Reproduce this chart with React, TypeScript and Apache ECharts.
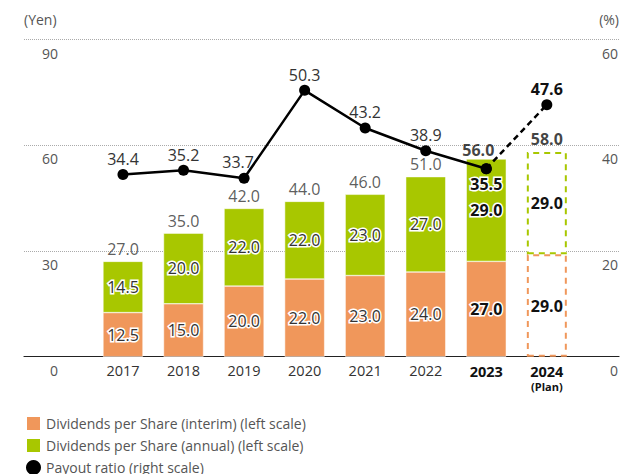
import { useEffect, useRef } from 'react';
import * as echarts from 'echarts';

const years = ['2017', '2018', '2019', '2020', '2021', '2022', '2023', '2024'];
const interim = [12.5, 15.0, 20.0, 22.0, 23.0, 24.0, 27.0, 29.0];
const annual = [14.5, 20.0, 22.0, 22.0, 23.0, 27.0, 29.0, 29.0];
const totals = [27.0, 35.0, 42.0, 44.0, 46.0, 51.0, 56.0, 58.0];
const payout = [34.4, 35.2, 33.7, 50.3, 43.2, 38.9, 35.5, 47.6];
const leftScale = { min: 0, max: 90, interval: 30 };
const rightScale = { min: 0, max: 60, interval: 20 };

const HL = 6; // 2023 (actual, highlighted)
const PLAN = 7; // 2024 (plan)

const ORANGE = '#F0975B';
const GREEN = '#A8C700';
const FONT = 'Open Sans';

const fmt = (p: any) => Number(p.value).toFixed(1);

const insideLabel = {
  show: true,
  position: 'inside',
  formatter: fmt,
  color: '#333',
  fontSize: 16,
  fontFamily: FONT,
  textBorderColor: '#fff',
  textBorderWidth: 3,
};

function barItems(values: number[], color: string) {
  return values.map((v, i) => {
    const item: any = { value: v };
    if (i === PLAN) {
      item.itemStyle = { color: '#fff', borderColor: color, borderWidth: 2, borderType: [6, 5] };
      item.label = { fontWeight: 'bold', color: '#111', textBorderWidth: 0 };
    } else if (i === HL) {
      item.label = { fontWeight: 'bold', color: '#111' };
    }
    return item;
  });
}

function buildOption() {
  const axisLabelStyle = { color: '#555', fontSize: 14, fontFamily: FONT };
  return {
    animation: false,
    textStyle: { fontFamily: FONT },
    grid: [
      { left: 24, right: 0, top: 39, bottom: 117.3 },
      { left: 92.7, right: 44.9, top: 39, bottom: 117.3 },
    ],
    legend: {
      left: 25,
      top: 415,
      height: 120,
      padding: 0,
      orient: 'vertical',
      itemWidth: 15,
      itemHeight: 15,
      itemGap: 5,
      textStyle: { color: '#555', fontSize: 14, fontFamily: FONT, lineHeight: 17 },
      data: [
        { name: 'Dividends per Share (interim) (left scale)', icon: 'rect' },
        { name: 'Dividends per Share (annual) (left scale)', icon: 'rect' },
        { name: 'Payout ratio (right scale)', icon: 'circle' },
      ],
    },
    xAxis: [
      {
        gridIndex: 0,
        type: 'value',
        min: 0,
        max: 1,
        axisLine: { show: true, lineStyle: { color: '#222', width: 1.2 } },
        axisTick: { show: false },
        axisLabel: { show: false },
        splitLine: { show: false },
      },
      {
        gridIndex: 1,
        type: 'category',
        data: years,
        axisLine: { show: false },
        axisTick: { show: false },
        splitLine: { show: false },
        axisLabel: {
          interval: 0,
          margin: 6,
          color: '#333',
          fontSize: 14.5,
          fontFamily: FONT,
          formatter: (v: string, i: number) =>
            i === PLAN ? `{b|${v}}\n{s|(Plan)}` : i === HL ? `{b|${v}}` : v,
          rich: {
            b: { fontWeight: 'bold', fontSize: 14.5, color: '#111', fontFamily: FONT, lineHeight: 17 },
            s: { fontWeight: 'bold', fontSize: 11, color: '#111', fontFamily: FONT, lineHeight: 14 },
          },
        },
      },
    ],
    yAxis: [
      {
        gridIndex: 0,
        type: 'value',
        position: 'left',
        ...leftScale,
        name: '(Yen)',
        nameLocation: 'end',
        nameGap: 13,
        nameTextStyle: { ...axisLabelStyle, align: 'left', verticalAlign: 'bottom' },
        axisLine: { show: false },
        axisTick: { show: false },
        axisLabel: {
          ...axisLabelStyle,
          inside: true,
          align: 'right',
          margin: 34,
          verticalAlign: 'top',
          padding: [7, 0, 0, 0],
        },
        splitLine: { show: true, lineStyle: { color: '#aaa', type: 'dotted', width: 1 } },
      },
      {
        gridIndex: 0,
        type: 'value',
        position: 'right',
        ...rightScale,
        name: '(%)',
        nameLocation: 'end',
        nameGap: 13,
        nameTextStyle: { ...axisLabelStyle, align: 'right', verticalAlign: 'bottom' },
        axisLine: { show: false },
        axisTick: { show: false },
        axisLabel: {
          ...axisLabelStyle,
          inside: true,
          align: 'right',
          margin: 1,
          verticalAlign: 'top',
          padding: [7, 0, 0, 0],
        },
        splitLine: { show: false },
      },
      { gridIndex: 1, type: 'value', ...leftScale, show: false, splitLine: { show: false } },
      { gridIndex: 1, type: 'value', ...rightScale, show: false, position: 'right', splitLine: { show: false } },
    ],
    series: [
      {
        name: 'Dividends per Share (interim) (left scale)',
        type: 'bar',
        xAxisIndex: 1,
        yAxisIndex: 2,
        stack: 'dps',
        barWidth: 40,
        itemStyle: { color: ORANGE, borderColor: '#fff', borderWidth: 0.5 },
        label: insideLabel,
        data: barItems(interim, ORANGE),
      },
      {
        name: 'Dividends per Share (annual) (left scale)',
        type: 'bar',
        xAxisIndex: 1,
        yAxisIndex: 2,
        stack: 'dps',
        barWidth: 40,
        itemStyle: { color: GREEN, borderColor: '#fff', borderWidth: 0.5 },
        label: insideLabel,
        data: barItems(annual, GREEN),
      },
      {
        name: 'total',
        type: 'scatter',
        xAxisIndex: 1,
        yAxisIndex: 2,
        symbolSize: 1,
        itemStyle: { color: 'rgba(0,0,0,0)' },
        silent: true,
        label: {
          show: true,
          position: 'top',
          distance: 4,
          formatter: fmt,
          color: '#333',
          fontSize: 16,
          fontFamily: FONT,
        },
        data: totals.map((v, i) => {
          const item: any = { value: v };
          if (i === HL) item.label = { fontWeight: 'bold', color: '#111', offset: [-8, 3] };
          if (i === PLAN) item.label = { fontWeight: 'bold', color: '#111' };
          return item;
        }),
      },
      {
        name: 'Payout ratio (right scale)',
        type: 'line',
        xAxisIndex: 1,
        yAxisIndex: 3,
        z: 5,
        symbol: 'circle',
        symbolSize: 11,
        itemStyle: { color: '#000' },
        lineStyle: { color: '#000', width: 2.5 },
        label: {
          show: true,
          position: 'top',
          distance: 2,
          formatter: fmt,
          color: '#333',
          fontSize: 16,
          fontFamily: FONT,
        },
        data: payout.map((v, i) => {
          if (i === PLAN) return '-';
          const item: any = { value: v };
          if (i === 2) item.label = { offset: [-6, -1] };
          if (i === HL)
            item.label = {
              position: 'bottom',
              fontWeight: 'bold',
              color: '#111',
              textBorderColor: '#fff',
              textBorderWidth: 3,
            };
          return item;
        }),
      },
      {
        name: 'payoutPlan',
        type: 'line',
        xAxisIndex: 1,
        yAxisIndex: 3,
        z: 4,
        symbol: 'circle',
        symbolSize: 11,
        itemStyle: { color: '#000' },
        lineStyle: { color: '#000', width: 2.5, type: [6, 4] },
        label: {
          show: true,
          position: 'top',
          distance: 2,
          formatter: fmt,
          color: '#111',
          fontWeight: 'bold',
          fontSize: 16,
          fontFamily: FONT,
        },
        data: payout.map((v, i) => {
          if (i < HL) return '-';
          if (i === HL) return { value: v, label: { show: false } };
          return { value: v };
        }),
      },
    ],
  };
}

export default function App() {
  const ref = useRef<HTMLDivElement>(null);
  useEffect(() => {
    const chart = echarts.init(ref.current!, null, { renderer: 'svg' });
    chart.setOption(buildOption() as any);
    return () => chart.dispose();
  }, []);
  return (
    <div
      ref={ref}
      style={{ position: 'fixed', left: 0, top: 0, width: 622, height: 474, background: '#fff' }}
    />
  );
}
